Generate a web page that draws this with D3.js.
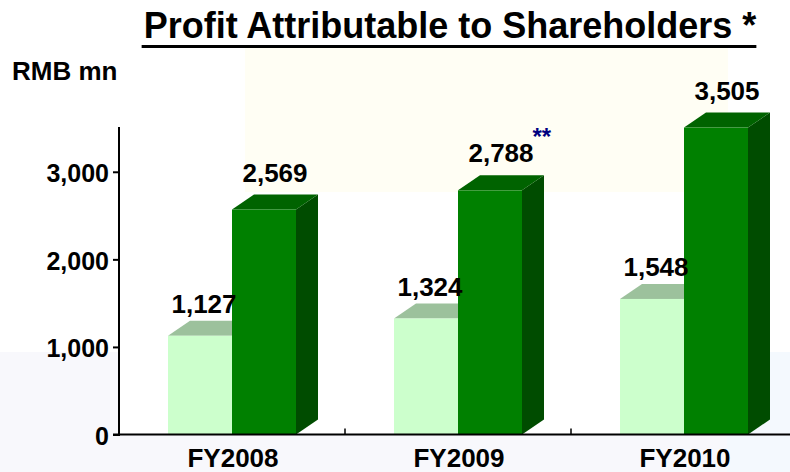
<!DOCTYPE html>
<html>
<head>
<meta charset="utf-8">
<script src="https://cdn.jsdelivr.net/npm/d3@7"></script>
<style>
  body { margin: 0; background: #fff; }
  text { font-family: "Liberation Sans", Arial, sans-serif; font-weight: bold; }
</style>
</head>
<body>
<script>
// data
let years = ['FY2008', 'FY2009', 'FY2010'];
let lightValues = [1127, 1324, 1548];
let darkValues = [2569, 2788, 3505];
let darkMarks = ['', '**', ''];
let yTicks = [0, 1000, 2000, 3000];

let svgWidth = 790;
let svgHeight = 472;

let svg = d3.select('body')
  .append('svg')
  .attr('width', svgWidth)
  .attr('height', svgHeight);

// faint slide background blocks
svg.append('rect').attr('x', 0).attr('y', 352).attr('width', 727).attr('height', 120).attr('fill', '#f8f8fc');
svg.append('rect').attr('x', 727).attr('y', 352).attr('width', 63).attr('height', 120).attr('fill', '#f4f9fe');
svg.append('rect').attr('x', 119).attr('y', 352).attr('width', 608).attr('height', 82).attr('fill', '#fff');
svg.append('rect').attr('x', 245).attr('y', 48).attr('width', 483).attr('height', 144).attr('fill', '#fffef4');

let xScale = d3.scaleBand()
  .domain(years)
  .range([119, 797]);

let yScale = d3.scaleLinear()
  .domain([0, 3500])
  .range([434.5, 128]);

let barW = 64;
let depthX = 22, depthY = 15; // 3d offset

// title
let title = svg.append('text')
  .attr('x', 450)
  .attr('y', 37.5)
  .attr('text-anchor', 'middle')
  .style('font-size', '36px')
  .text('Profit Attributable to Shareholders *');
let tb = title.node().getBBox();
svg.append('rect')
  .attr('x', tb.x - 2).attr('y', 45)
  .attr('width', tb.width + 2).attr('height', 3)
  .attr('fill', '#000');

svg.append('text')
  .attr('x', 12).attr('y', 80)
  .style('font-size', '26px')
  .text('RMB mn');

// bars
let groups = svg.selectAll('g.year')
  .data(years)
  .enter()
  .append('g')
    .attr('class', 'year');

function bar3d(g, x0, v, front, top, side) {
  let y0 = yScale(0), y1 = yScale(v);
  if (side) {
    g.append('path')
      .attr('d', `M${x0 + barW},${y1} L${x0 + barW + depthX},${y1 - depthY} L${x0 + barW + depthX},${y0 - depthY} L${x0 + barW},${y0} Z`)
      .attr('fill', side);
  }
  g.append('path')
    .attr('d', `M${x0},${y1} L${x0 + depthX},${y1 - depthY} L${x0 + barW + depthX},${y1 - depthY} L${x0 + barW},${y1} Z`)
    .attr('fill', top);
  g.append('rect')
    .attr('x', x0).attr('y', y1)
    .attr('width', barW).attr('height', y0 - y1)
    .attr('fill', front);
}

groups.each(function (d, i) {
  let g = d3.select(this);
  let c = xScale(d) + xScale.bandwidth() / 2;
  bar3d(g, c - barW, lightValues[i], '#ccffcc', '#9cc19c', null);
  bar3d(g, c, darkValues[i], '#008000', '#006300', '#004c00');

  g.append('text')
    .attr('x', c - barW / 2 + 4)
    .attr('y', yScale(lightValues[i]) - depthY - 8)
    .attr('text-anchor', 'middle')
    .style('font-size', '26px')
    .text(d3.format(',')(lightValues[i]));

  let lab = g.append('text')
    .attr('x', c + barW / 2 + depthX / 2)
    .attr('y', yScale(darkValues[i]) - depthY - 13)
    .attr('text-anchor', 'middle')
    .style('font-size', '26px')
    .text(d3.format(',')(darkValues[i]));

  if (darkMarks[i]) {
    // footnote stars up and to the right of the label
    let lb = lab.node().getBBox();
    g.append('text')
      .attr('x', lb.x + lb.width - 1)
      .attr('y', lb.y + 7)
      .attr('fill', '#000080')
      .style('font-size', '24px')
      .text(darkMarks[i]);
  }
});

// y axis
let yAxis = svg.append('g')
  .attr('transform', 'translate(119,0)')
  .call(d3.axisLeft(yScale).tickValues(yTicks).tickSize(6).tickSizeOuter(0).tickPadding(4).tickFormat(d3.format(',')));
yAxis.select('.domain').attr('stroke-width', 2).attr('d', `M0,${yScale(0)}V127`);
yAxis.selectAll('.tick line').attr('stroke-width', 2).attr('x2', -6).attr('x1', 1);
yAxis.selectAll('.tick text')
  .attr('dy', '0.4em')
  .style('font-size', '25px')
  .style('font-family', '"Liberation Sans", Arial, sans-serif')
  .style('font-weight', 'bold')
  .attr('fill', '#000');

// x axis
svg.append('line')
  .attr('x1', 113).attr('x2', 790)
  .attr('y1', yScale(0)).attr('y2', yScale(0))
  .attr('stroke', '#000').attr('stroke-width', 2);

svg.selectAll('line.xtick')
  .data(years.slice(1))
  .enter()
  .append('line')
    .attr('class', 'xtick')
    .attr('x1', d => xScale(d)).attr('x2', d => xScale(d))
    .attr('y1', yScale(0) - 6).attr('y2', yScale(0))
    .attr('stroke', '#000').attr('stroke-width', 1.5);

svg.selectAll('text.xlab')
  .data(years)
  .enter()
  .append('text')
    .attr('class', 'xlab')
    .attr('x', d => xScale(d) + xScale.bandwidth() / 2 + 1)
    .attr('y', 467)
    .attr('text-anchor', 'middle')
    .style('font-size', '26px')
    .text(d => d);
</script>
</body>
</html>
